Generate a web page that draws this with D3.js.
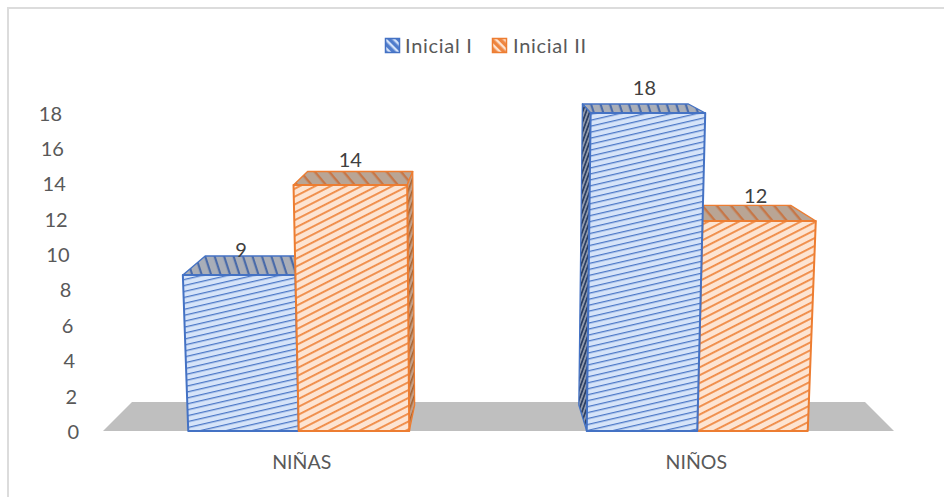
<!DOCTYPE html>
<html><head><meta charset="utf-8">
<script src="https://cdn.jsdelivr.net/npm/d3@7"></script>
<style>html,body{margin:0;background:#fff}svg{display:block}text{font-family:Lato,"Open Sans",sans-serif;fill:#595959}</style>
</head><body><svg id="c" width="944" height="497"></svg>
<script>
const categories=["NIÑAS","NIÑOS"];
const seriesNames=["Inicial I","Inicial II"];
const inicial1=[9,18];
const inicial2=[14,12];
const yTicks=[0,2,4,6,8,10,12,14,16,18];

const svg=d3.select("#c");
// axis-label scale, bar-top scale (bars stand back from the floor edge), and the leaning axis-label edge
const y=d3.scaleLinear().domain([0,18]).range([432,113.5]);
const yTop=d3.scaleLinear().domain([0,18]).range([437,113]);
const xTick=d3.scaleLinear().domain([0,18]).range([79,62]);
const x0=d3.scaleBand().domain(categories).range([103,894]);
const x1=d3.scaleBand().domain(seriesNames).range([-110.5,110.5]);
const baseY=431, floorBackY=402, vanishX=481, leanK=0.00205, depthK=0.075;
const colors={"Inicial I":"#4472c4","Inicial II":"#ed7d31"};
const defs=svg.append("defs");
function pat(id,bg,line,angle,gap,sw,op){
  const p=defs.append("pattern").attr("id",id).attr("patternUnits","userSpaceOnUse").attr("width",12).attr("height",gap).attr("patternTransform",`rotate(${angle})`);
  p.append("rect").attr("width",12).attr("height",gap).attr("fill",bg);
  p.append("rect").attr("width",12).attr("height",sw).attr("fill",line).attr("opacity",op||1);
}
pat("f0","#d6e4f9","#4472c4",-13,5.8,1.3,.95);
pat("f1","#fde4d2","#ed7d31",-27,7,1.9,.85);
pat("t0","#a9aeb8","#3f64a8",72,9,2.2,.9);
pat("t1","#b9a595","#c96c35",50,11,2.4,.8);
pat("s0","#8f98aa","#2c3f63",-70,3.4,1.7);
pat("s1","#c2a08a","#a8622f",-70,4,1.6);
pat("l0","#4f7ccb","#d5e3f9",45,6,2.4);
pat("l1","#ee8540","#fde4d2",45,6,2.4);

// partial frame: top and left rules
svg.append("path").attr("d","M8,497V8H944").attr("fill","none").attr("stroke","#dcdcdc").attr("stroke-width",2);

// floor
const fr=x0.range();
svg.append("polygon").attr("fill","#bfbfbf").attr("points",[[fr[0],baseY],[132,floorBackY],[865,floorBackY],[fr[1],baseY]].join(" "));

const rows=categories.flatMap((c,i)=>[
  {c,s:seriesNames[0],v:inicial1[i],k:0,i},
  {c,s:seriesNames[1],v:inicial2[i],k:1,i}]);
function geom(r){
  const cx=x0(r.c)+x0.bandwidth()/2+(r.i===0?-2:1);
  const bl=cx+x1(r.s), br=bl+x1.bandwidth();
  const top=xb=>xb+(xb-vanishX)*leanK*r.v;
  const back=xf=>xf+(vanishX-xf)*depthK;
  const t=yTop(r.v), tl=top(bl), tr=top(br);
  const dy=9+(t-113)*0.0617;
  return {bl,br,tl,tr,t,dy,back};
}
const g=svg.append("g");
[rows[0],rows[1],rows[3],rows[2]].forEach(r=>{
  const m=geom(r), st=colors[r.s], gg=g.append("g");
  gg.append("polygon").attr("points",[[m.tl,m.t],[m.back(m.tl),m.t-m.dy],[m.back(m.tr),m.t-m.dy],[m.tr,m.t]].join(" "))
    .attr("fill",`url(#t${r.k})`).attr("stroke",st).attr("stroke-width",1.4).attr("stroke-linejoin","round");
  const side=r.i===0?m.tr:m.tl, sideB=r.i===0?m.br:m.bl;
  if((r.i===0&&r.k===1)||(r.i===1&&r.k===0)){
    gg.append("polygon").attr("points",[[side,m.t],[m.back(side),m.t-m.dy],[m.back(sideB),405],[sideB,baseY]].join(" "))
      .attr("fill",`url(#s${r.k})`).attr("stroke",st).attr("stroke-width",1.3).attr("stroke-linejoin","round");
  }
  gg.append("polygon").attr("points",[[m.bl,baseY],[m.tl,m.t],[m.tr,m.t],[m.br,baseY]].join(" "))
    .attr("fill",`url(#f${r.k})`).attr("stroke",st).attr("stroke-width",2).attr("stroke-linejoin","round");
});

// value labels
rows.forEach(r=>{
  const m=geom(r);
  svg.append("text").attr("x",(m.tl+m.tr)/2+(r.i===0?(r.k===0?2:0):-3.5)).attr("y",m.t-18).attr("text-anchor","middle").attr("font-size",20).style("fill","#404040").text(r.v);
});

// axes
yTicks.forEach(t=>{
  svg.append("text").attr("x",xTick(t)).attr("y",y(t)+7).attr("text-anchor","end").attr("font-size",20).text(t);
});
categories.forEach(c=>{
  svg.append("text").attr("x",x0(c)+x0.bandwidth()/2+(c==="NIÑAS"?1:0)).attr("y",469).attr("text-anchor","middle").attr("font-size",19.5).text(c);
});

// legend
const lx=[385,492], tx=[405,513];
seriesNames.forEach((s,i)=>{
  svg.append("rect").attr("x",lx[i]+.5).attr("y",38.5).attr("width",14).attr("height",14).attr("fill",`url(#l${i})`).attr("stroke",colors[s]).attr("stroke-width",1.5);
  svg.append("text").attr("x",tx[i]).attr("y",53).attr("font-size",20).attr("letter-spacing",.7).text(s);
});
</script></body></html>
